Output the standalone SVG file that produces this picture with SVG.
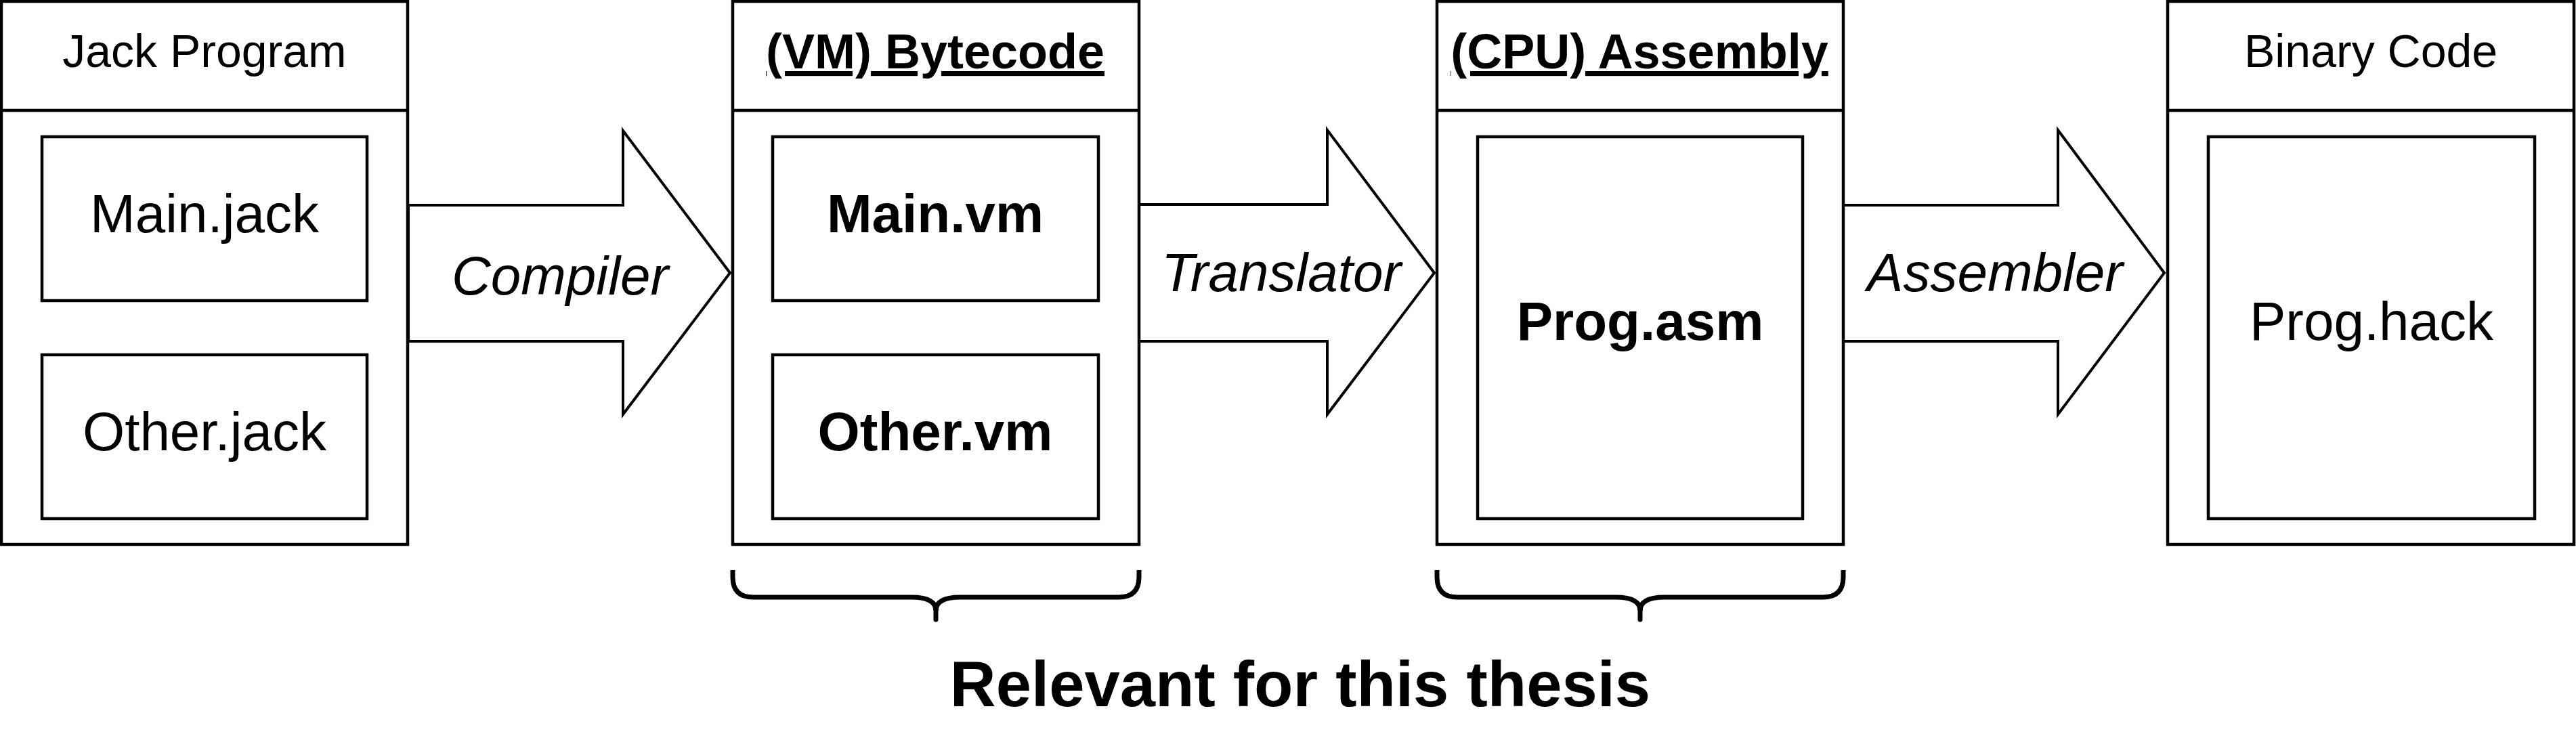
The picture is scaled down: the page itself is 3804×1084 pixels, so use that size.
<svg xmlns="http://www.w3.org/2000/svg" width="3804" height="1084" viewBox="0 0 3804 1084">
<style>
.box{fill:#fff;stroke:#000;stroke-width:4.5}
.inner{fill:#fff;stroke:#000;stroke-width:4.5}
.hdr{stroke:#000;stroke-width:4.5}
.arrow{fill:#fff;stroke:#000;stroke-width:4;stroke-linejoin:miter}
.brace{fill:none;stroke:#000;stroke-width:7}
text{font-family:"Liberation Sans",Arial,Helvetica,sans-serif;fill:#000;text-anchor:middle}
.title{font-size:68px}
.btitle{font-size:72px;font-weight:bold;text-decoration:underline}
.file{font-size:80px}
.bfile{font-size:80px;font-weight:bold}
.lbl{font-size:80px;font-style:italic}
.big{font-size:94px;font-weight:bold}
</style>
<rect width="3804" height="1084" fill="#fff"/>
<g id="connectors">
  <g id="compiler">
    <polygon class="arrow" points="603,303 920,303 920,193 1078,403 920,612 920,504 603,504"/>
    <text class="lbl" x="827" y="435">Compiler</text>
  </g>
  <g id="translator">
    <polygon class="arrow" points="1682,302 1960,302 1960,192 2118,403 1960,612 1960,504 1682,504"/>
    <text class="lbl" x="1892" y="430">Translator</text>
  </g>
  <g id="assembler">
    <polygon class="arrow" points="2722,303 3039,303 3039,192 3196,403 3039,612 3039,504 2722,504"/>
    <text class="lbl" x="2946" y="430">Assembler</text>
  </g>
</g>
<g id="jack-program">
  <rect class="box" x="2" y="2" width="600" height="802"/>
  <line class="hdr" x1="2" y1="163" x2="602" y2="163"/>
  <text class="title" x="302" y="99">Jack Program</text>
  <g id="main-jack">
    <rect class="inner" x="62" y="202" width="480" height="242"/>
    <text class="file" x="302" y="343">Main.jack</text>
  </g>
  <g id="other-jack">
    <rect class="inner" x="62" y="524" width="480" height="242"/>
    <text class="file" x="302" y="665">Other.jack</text>
  </g>
</g>
<g id="vm-bytecode">
  <rect class="box" x="1082" y="2" width="600" height="802"/>
  <line class="hdr" x1="1082" y1="163" x2="1682" y2="163"/>
  <text class="btitle" x="1381" y="101">(VM) Bytecode</text>
  <g id="main-vm">
    <rect class="inner" x="1141" y="202" width="481" height="242"/>
    <text class="bfile" x="1381" y="343">Main.vm</text>
  </g>
  <g id="other-vm">
    <rect class="inner" x="1141" y="524" width="481" height="242"/>
    <text class="bfile" x="1381" y="665">Other.vm</text>
  </g>
</g>
<g id="cpu-assembly">
  <rect class="box" x="2122" y="2" width="600" height="802"/>
  <line class="hdr" x1="2122" y1="163" x2="2722" y2="163"/>
  <text class="btitle" x="2421" y="101">(CPU) Assembly</text>
  <g id="prog-asm">
    <rect class="inner" x="2182" y="202" width="480" height="564"/>
    <text class="bfile" x="2422" y="502">Prog.asm</text>
  </g>
</g>
<g id="binary-code">
  <rect class="box" x="3201" y="2" width="600" height="802"/>
  <line class="hdr" x1="3201" y1="163" x2="3801" y2="163"/>
  <text class="title" x="3501" y="99">Binary Code</text>
  <g id="prog-hack">
    <rect class="inner" x="3261" y="202" width="482" height="564"/>
    <text class="file" x="3502" y="502">Prog.hack</text>
  </g>
</g>
<g id="brace-vm">
  <path class="brace" d="M1082 842 L1082 852 Q1082 882 1112 882 L1346 882 Q1382 882 1382 902 M1682 842 L1682 852 Q1682 882 1652 882 L1418 882 Q1382 882 1382 902"/>
  <line class="brace" x1="1382" y1="900" x2="1382" y2="915" stroke-linecap="round"/>
</g>
<g id="brace-asm">
  <path class="brace" d="M2122 842 L2122 852 Q2122 882 2152 882 L2386 882 Q2422 882 2422 902 M2722 842 L2722 852 Q2722 882 2692 882 L2458 882 Q2422 882 2422 902"/>
  <line class="brace" x1="2422" y1="900" x2="2422" y2="915" stroke-linecap="round"/>
</g>
<g id="caption">
  <text class="big" x="1920" y="1043">Relevant for this thesis</text>
</g>
</svg>
